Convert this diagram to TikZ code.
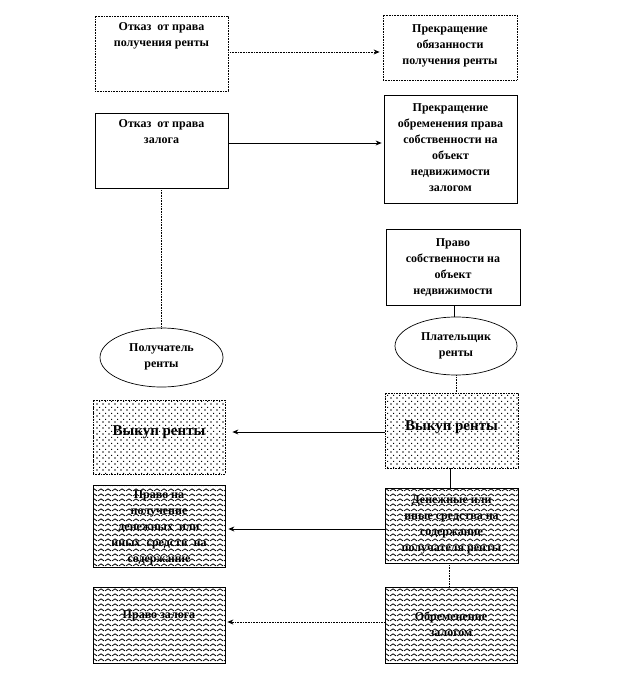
\documentclass[tikz,border=0pt]{standalone}
\usepackage{fontspec}
\setmainfont{Liberation Serif}
\usetikzlibrary{arrows.meta,shapes.geometric,patterns.meta}
\tikzdeclarepattern{
  name=wavy,
  type=uncolored,
  bottom left={(0pt,0pt)},
  top right={(6.5pt,5pt)},
  tile size={(6.5pt,5pt)},
  code={\draw[line width=0.9pt] (0pt,1.3pt) -- (3.25pt,3.7pt) -- (6.5pt,1.3pt);}
}
\tikzdeclarepattern{
  name=dotty,
  type=uncolored,
  bottom left={(0pt,0pt)},
  top right={(6pt,6pt)},
  tile size={(6pt,6pt)},
  code={\fill (0.5pt,0.5pt) rectangle (1.8pt,1.8pt); \fill (3.5pt,3.5pt) rectangle (4.8pt,4.8pt);}
}
\tikzset{
  dotline/.style={line width=0.8pt, dash pattern=on 0.8pt off 0.8pt},
  solidline/.style={line width=0.8pt},
  arr/.style={-{Stealth[length=6pt,width=5pt]}},
  box/.style={draw, line width=0.8pt, inner sep=0pt},
  dotbox/.style={box, dash pattern=on 0.8pt off 0.8pt},
  txt/.style={font=\bfseries\fontsize{12}{16}\selectfont, align=center, inner sep=0pt},
  bigtxt/.style={font=\bfseries\fontsize{15}{17}\selectfont, align=center, inner sep=0pt},
  oval/.style={draw, ellipse, line width=0.7pt, inner sep=0pt},
  wavebox/.style={box, pattern=wavy},
  dotsbox/.style={dotbox, pattern=dotty},
}
\begin{document}
\begin{tikzpicture}[x=1pt,y=-1pt]
\useasboundingbox[fill=white] (0,0) rectangle (624,687);
% boxes
\node[dotbox, minimum width=133pt, minimum height=75pt] (A) at (161.5,53.5) {};
\node[txt, anchor=north] (At) at ([yshift=-7pt]A.north) {Отказ\ \ от права\\получения ренты};
\node[dotbox, minimum width=134pt, minimum height=65pt] (B) at (450,47.5) {};
\node[txt] (Bt) at (450,46) {Прекращение\\обязанности\\получения ренты};
\node[box, minimum width=133pt, minimum height=75pt] (C) at (161.5,150.5) {};
\node[txt, anchor=north] (Ct) at ([yshift=-7pt]C.north) {Отказ\ \ от права\\залога};
\node[box, minimum width=133pt, minimum height=108pt] (D) at (450.5,149) {};
\node[txt] (Dt) at (450.5,147.5) {Прекращение\\обременения права\\собственности на\\объект\\недвижимости\\залогом};
\node[box, minimum width=134pt, minimum height=76pt] (E) at (453,267) {};
\node[txt] (Et) at (453,268) {Право\\собственности на\\объект\\недвижимости};
\node[oval, minimum width=123pt, minimum height=59pt] (R1) at (161.5,357.5) {};
\node[txt] (R1t) at (161.5,357) {Получатель\\ренты};
\node[oval, minimum width=122pt, minimum height=58pt] (R2) at (456,346) {};
\node[txt] (R2t) at (456,346) {Плательщик\\ренты};
\node[dotsbox, minimum width=132pt, minimum height=74pt] (G) at (159,437) {};
\node[bigtxt] (Gt) at (159,432) {Выкуп ренты};
\node[dotsbox, minimum width=133pt, minimum height=75pt] (F) at (451.5,430.5) {};
\node[bigtxt] (Ft) at (451.5,427) {Выкуп ренты};
\node[wavebox, minimum width=132pt, minimum height=82pt] (I) at (159,526) {};
\node[txt] (It) at (159,528) {Право на\\получение\\денежных\ \ или\\иных\ \ средств\ \ на\\содержание};
\node[wavebox, minimum width=133pt, minimum height=75pt] (H) at (451.5,525.5) {};
\node[txt] (Ht) at (451.5,525) {Денежные или\\иные средства на\\содержание\\получателя ренты};
\node[wavebox, minimum width=132pt, minimum height=76pt] (K) at (159,625) {};
\node[txt] (Kt) at (159,616) {Право залога};
\node[wavebox, minimum width=132pt, minimum height=76pt] (J) at (451,625) {};
\node[txt] (Jt) at (451,624) {Обременение\\залогом};
% connectors
\draw[dotline, arr, shorten >=3pt] ([yshift=1.5pt]A.east) -- ([yshift=1.5pt]A.east -| B.west);
\draw[solidline, arr, shorten >=2pt] ([yshift=7.5pt]C.east) -- ([yshift=7.5pt]C.east -| D.west);
\draw[dotline] (C.south) -- (R1.north);
\draw[solidline] ([xshift=1pt]E.south) -- ([xshift=1pt]E.south |- R2.north);
\draw[dotline] (R2.south) -- (R2.south |- F.north);
\draw[solidline, arr, shorten >=7pt] ([yshift=-1.5pt]F.west) -- ([yshift=-1.5pt]F.west -| G.east);
\draw[solidline] ([xshift=-1.5pt]F.south) -- ([xshift=-1.5pt]F.south |- H.north);
\draw[solidline, arr, shorten >=3pt] ([yshift=-3.5pt]H.west) -- ([yshift=-3.5pt]H.west -| I.east);
\draw[dotline] ([xshift=-2.5pt]H.south) -- ([xshift=-2.5pt]H.south |- J.north);
\draw[dotline, arr, shorten >=2pt] ([yshift=3pt]J.west) -- ([yshift=3pt]J.west -| K.east);
\end{tikzpicture}
\end{document}
